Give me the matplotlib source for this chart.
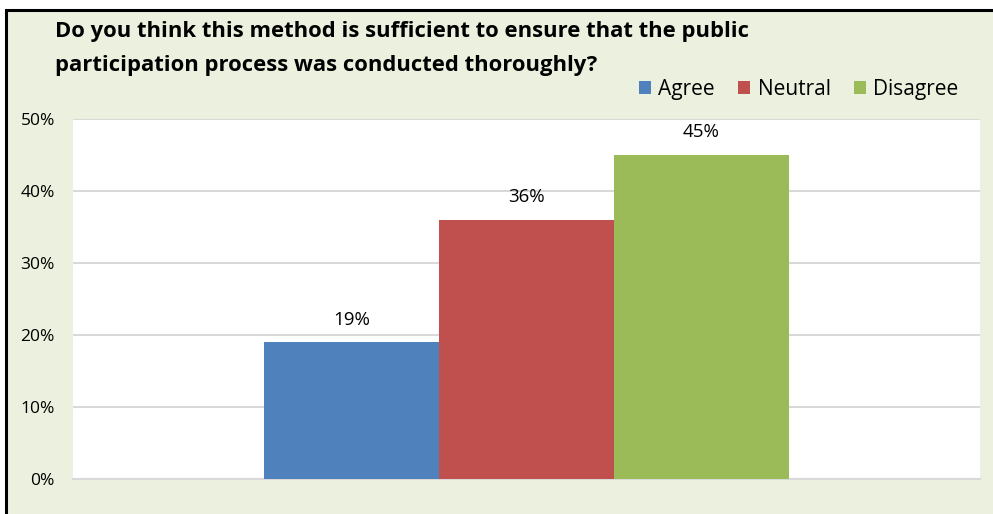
import matplotlib.pyplot as plt
from matplotlib.patches import Rectangle

# survey answers (share of respondents, %)
categories = ["Agree", "Neutral", "Disagree"]
shares = [19, 36, 45]
colors = ["#4F81BD", "#C0504D", "#9BBB59"]
y_ticks = [0, 10, 20, 30, 40, 50]

TITLE = ("Do you think this method is sufficient to ensure that the public\n"
         "participation process was conducted thoroughly?")
FONT = ["Open Sans", "DejaVu Sans"]
BG = "#EBF1DE"

plt.rcParams["font.family"] = FONT

fig = plt.figure(figsize=(9.93, 5.14), dpi=100)
fig.patch.set_facecolor("white")

# chart panel with a black frame on the left and top
W, H = 993, 514
panel = Rectangle((6 / W, -0.05), 1.1, (H - 10) / H + 0.05, transform=fig.transFigure,
                  facecolor=BG, edgecolor="black", linewidth=2.2, zorder=-5)
fig.patches.append(panel)

ax = fig.add_axes([73 / W, 35 / H, 907 / W, 360 / H])
ax.set_zorder(2)
ax.set_facecolor("white")

width = 175 / 907
offsets = [-width, 0, width]
for off, val, col, name in zip(offsets, shares, colors, categories):
    ax.bar(off, val, width=width, color=col, label=name, zorder=3)
    ax.text(off, val + 1.9, f"{val}%", ha="center", va="bottom",
            fontsize=13.5, color="black", zorder=4)

ax.set_xlim(-0.5, 0.5)
ax.set_ylim(0, 50)
ax.set_yticks(y_ticks)
ax.set_yticklabels([f"{t}%" for t in y_ticks], fontsize=12.5)
ax.set_xticks([])
ax.tick_params(axis="y", length=0, pad=13)
ax.grid(axis="y", color="#D9D9D9", linewidth=1.5, zorder=1)
for side in ["left", "right", "top"]:
    ax.spines[side].set_visible(False)
ax.spines["bottom"].set_color("#D9D9D9")
ax.spines["bottom"].set_linewidth(1.5)

fig.text(55 / W, 1 - 21 / H, TITLE, ha="left", va="top", fontsize=15.8,
         fontweight="bold", linespacing=1.82)

leg = ax.legend(loc="lower right", bbox_to_anchor=(969 / W, 1 - 110 / H),
                bbox_transform=fig.transFigure, ncol=3, frameon=False,
                fontsize=15, handlelength=0.6, handleheight=0.6,
                handletextpad=0.35, columnspacing=1.1, borderpad=0)

fig.savefig("out.png", dpi=100, facecolor=fig.get_facecolor())
